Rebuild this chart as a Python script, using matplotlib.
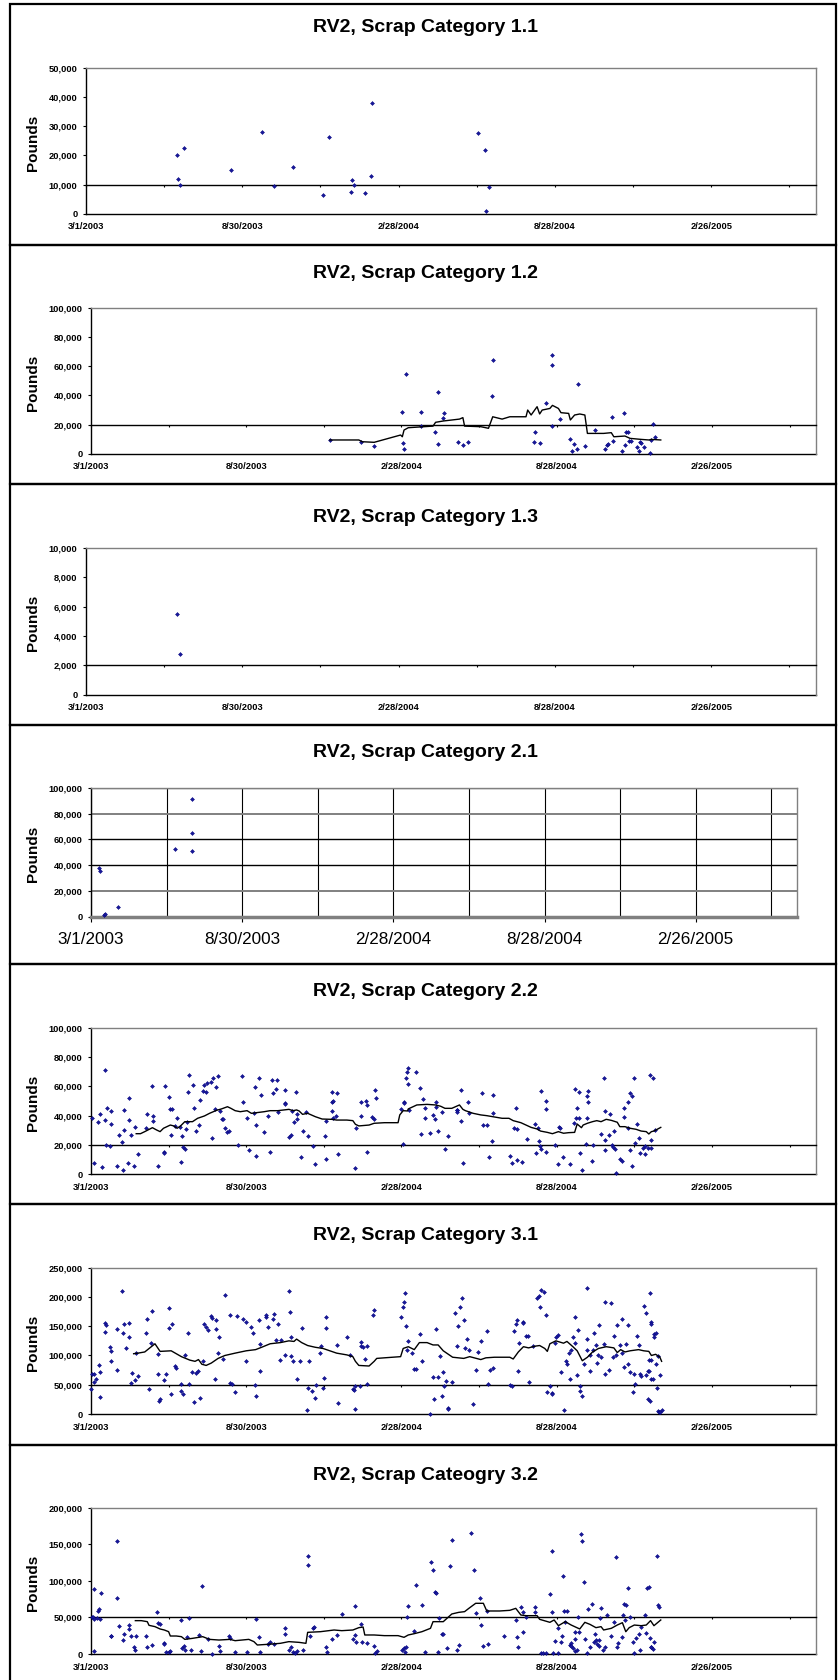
import numpy as np
import matplotlib
matplotlib.use('Agg')
import matplotlib.pyplot as plt
from matplotlib.patches import Rectangle
from matplotlib.lines import Line2D
from datetime import date, timedelta

plt.rcParams['font.family'] = ['Liberation Sans', 'DejaVu Sans']

START = date(2003, 3, 1)
SPAN = 850  # days on every date axis

# x = days after 3/1/2003, y = thousands of pounds
c11_day = [106, 107, 110, 114, 169, 205, 219, 241, 276, 283, 309, 310, 312, 325, 332, 333, 457, 465, 469, 466]
c11_klb = [20.0, 12.0, 9.8, 22.4, 15.0, 28.0, 9.4, 16.0, 6.4, 26.1, 7.4, 11.5, 9.8, 7.1, 12.8, 37.9, 27.5, 21.7, 9.2, 1.0]

c12_day = [280, 317, 332, 365, 366, 367, 369, 387, 387, 403, 407, 407, 413, 414, 430, 436, 442, 470, 471, 519,
           521, 526, 533, 540, 541, 541, 550, 562, 564, 566, 570, 571, 579, 591, 603, 605, 606, 611, 612, 625,
           622, 626, 627, 629, 631, 633, 640, 642, 644, 645, 648, 655, 657, 659, 661]
c12_klb = [9.4, 8.2, 5.5, 28.3, 7.1, 3.2, 54.8, 28.3, 18.7, 14.8, 42.5, 6.6, 24.4, 28.1, 8.0, 6.2, 8.2, 39.7, 64.4, 8.2,
           15.1, 7.5, 34.9, 67.3, 60.5, 18.7, 23.5, 10.0, 1.6, 6.8, 3.2, 47.9, 5.3, 16.0, 3.2, 5.9, 6.6, 24.9, 8.4, 27.6,
           2.1, 5.9, 14.6, 14.8, 8.9, 8.4, 4.8, 1.8, 8.2, 7.1, 4.3, 0.2, 9.4, 20.1, 11.6]
c12_avg_day = [280, 314, 318, 332, 363, 365, 367, 372, 385, 401, 404, 413, 432, 436, 438, 457, 466, 471, 482, 491,
               510, 512, 516, 523, 526, 529, 538, 541, 548, 551, 560, 562, 567, 573, 579, 582, 601, 610, 613, 626,
               632, 645, 654, 657, 668]
c12_avg_klb = [9.4, 9.4, 8.2, 7.8, 12.8, 11.6, 16.2, 17.8, 18.3, 18.9, 21.5, 22.4, 23.7, 24.7, 18.9, 18.5, 17.4, 25.3, 23.7, 25.3,
               25.3, 29.9, 26.5, 32.2, 27.2, 29.9, 31.0, 33.1, 31.0, 28.1, 27.6, 23.1, 26.5, 27.2, 26.5, 13.9, 13.9, 14.4, 11.6, 12.1,
               10.5, 9.8, 9.4, 9.8, 9.4]

c13_day = [106, 109]
c13_klb = [5.51, 2.79]

c21_day = [10, 11, 16, 17, 33, 101, 121, 121, 122]
c21_klb = [38.0, 35.8, 1.5, 2.3, 7.7, 52.3, 50.8, 64.7, 91.5]

c22_day = [1, 3, 8, 10, 13, 16, 16, 18, 19, 22, 23, 24, 30, 33, 36, 38, 39, 39, 43, 44,
           45, 47, 50, 52, 55, 64, 66, 71, 73, 73, 79, 85, 86, 87, 91, 93, 94, 95, 99, 101,
           104, 106, 107, 108, 110, 111, 113, 114, 115, 120, 121, 123, 127, 128, 131, 133, 135, 136, 141, 142,
           143, 145, 146, 149, 151, 154, 155, 157, 159, 162, 172, 177, 178, 183, 185, 191, 192, 193, 194, 197,
           199, 203, 207, 210, 212, 213, 217, 218, 219, 227, 228, 228, 232, 234, 236, 238, 240, 242, 242, 246,
           248, 252, 254, 260, 263, 274, 275, 276, 282, 283, 283, 284, 284, 287, 288, 289, 309, 311, 316, 317,
           322, 323, 324, 330, 332, 333, 334, 364, 366, 367, 367, 369, 371, 372, 372, 373, 381, 386, 387, 389,
           391, 391, 397, 401, 403, 404, 405, 407, 411, 415, 418, 429, 429, 429, 434, 434, 436, 442, 443, 458,
           459, 464, 467, 470, 471, 471, 491, 493, 496, 498, 500, 500, 505, 511, 520, 522, 524, 525, 526, 527,
           528, 533, 533, 534, 544, 548, 549, 550, 553, 561, 566, 567, 569, 570, 572, 572, 573, 576, 580, 581,
           582, 583, 583, 587, 588, 598, 601, 603, 603, 603, 607, 608, 611, 612, 613, 614, 616, 620, 622, 625,
           625, 629, 630, 632, 632, 634, 634, 637, 638, 640, 642, 644, 647, 649, 650, 653, 655, 656, 657, 659,
           661]
c22_klb = [38.6, 7.5, 36, 41, 5.2, 71, 37, 20, 45, 19, 34.5, 43.4, 5.9, 27, 22, 3, 43.6, 30, 8, 52,
           37, 27, 5.5, 32, 14, 31.6, 41, 60, 36.4, 40, 5.5, 15, 14.3, 60, 52.5, 44.8, 26.8, 44.5, 33, 38.4,
           32.3, 8.6, 25.9, 18.6, 17.5, 31, 36, 56, 68, 61, 45, 29.8, 33.4, 50.5, 57, 61, 56, 62, 63, 24.8,
           65.5, 44.5, 59.3, 66.8, 43.4, 37.7, 38, 31.4, 28.9, 29.8, 20.2, 66.8, 49.5, 38.4, 16.8, 42, 59.8, 12.3, 33.4, 65.5,
           54.3, 29, 39.8, 15.2, 64.5, 55.5, 58, 64.5, 42.7, 57.3, 48.6, 48, 25.5, 26.8, 43.2, 36, 56.4, 38, 41.4, 11.6,
           29.5, 42.3, 26, 19.3, 7, 26, 36.4, 10.7, 56.4, 43.2, 49, 49.8, 38.6, 40, 55.5, 13.9, 4.5, 31.8, 49.5, 39.5,
           50, 47.3, 15.2, 39, 38, 57.3, 51.8, 44.5, 21, 49.5, 48.6, 66, 69.8, 61.6, 72.3, 43.6, 69.5, 59, 27.3, 51.6,
           38.2, 45.5, 28.2, 40.5, 37.5, 49.3, 46, 29.3, 42.7, 17.5, 26.4, 44, 43.6, 42.3, 36.6, 57.3, 7.7, 49, 42, 55.7,
           33.9, 33.6, 11.8, 22.7, 54.3, 41.6, 12.3, 7.5, 31.4, 45.2, 10, 30.9, 8.4, 23.9, 34, 14.5, 31.6, 22.7, 19.3, 17,
           56.8, 49.8, 44.8, 15.5, 20, 6.8, 32.3, 31.6, 11.8, 7, 34.8, 58.2, 38.6, 45.5, 55.9, 38.4, 14.5, 3.2, 20.7, 38.4,
           53.2, 56.6, 49.5, 9.3, 19.8, 27.5, 66, 43, 23.2, 16.4, 26.8, 41.4, 19.8, 18.4, 29.3, 17.5, 1, 10.5, 9.3, 38.9,
           45.2, 49.5, 31.6, 16.8, 55.2, 5.9, 53.2, 65.7, 21.1, 34.5, 25, 14.5, 18, 19.3, 13.6, 18.2, 68, 23.4, 18, 65.5,
           30]
c22_avg_day = [53, 58, 63, 72, 77, 81, 85, 93, 97, 101, 105, 110, 119, 125, 133, 139, 147, 153, 160, 164,
               169, 175, 183, 188, 195, 203, 210, 219, 232, 237, 241, 244, 248, 254, 263, 271, 282, 288, 300, 307,
               310, 314, 326, 332, 344, 360, 362, 366, 371, 372, 382, 394, 404, 410, 415, 423, 432, 436, 439, 448,
               457, 464, 473, 482, 490, 495, 504, 510, 516, 523, 527, 535, 541, 548, 554, 560, 567, 570, 575, 577,
               582, 588, 593, 598, 604, 610, 617, 620, 626, 632, 639, 645, 651, 654, 657, 660, 668]
c22_avg_klb = [27.7, 27.7, 29.1, 31.8, 30.2, 29.1, 31.4, 33.6, 33.0, 31.4, 33.0, 35.9, 35.9, 38.2, 39.8, 41.6, 43.6, 44.6, 46.1, 45.0,
               43.4, 42.7, 43.4, 41.6, 42.1, 42.7, 43.4, 43.4, 44.3, 43.4, 43.9, 43.2, 40.9, 41.6, 39.3, 37.7, 37.5, 37.0, 37.0, 36.6,
               34.1, 33.0, 33.6, 34.8, 35.2, 35.2, 40.5, 43.4, 43.2, 44.6, 47.3, 47.7, 47.3, 46.4, 45.0, 45.0, 47.3, 44.3, 43.4, 41.6,
               40.5, 40.0, 39.1, 38.2, 38.2, 36.6, 35.2, 33.6, 32.0, 30.9, 29.5, 28.6, 27.7, 29.1, 28.0, 28.4, 28.6, 34.3, 31.8, 33.6,
               34.8, 35.9, 36.6, 35.9, 37.5, 36.8, 35.5, 32.5, 32.5, 31.4, 30.7, 29.5, 29.1, 27.5, 29.1, 29.5, 32.0]

c31_day = [0, 1, 3, 4, 6, 9, 11, 10, 16, 16, 18, 22, 23, 24, 30, 31, 36, 38, 39, 41,
           44, 45, 47, 48, 51, 53, 55, 64, 66, 68, 70, 72, 78, 79, 80, 81, 86, 88, 91, 92,
           94, 95, 99, 100, 105, 106, 108, 110, 114, 115, 118, 121, 123, 126, 128, 131, 133, 135, 137, 141,
           142, 145, 146, 147, 149, 150, 155, 157, 163, 163, 165, 169, 171, 178, 182, 182, 187, 190, 192, 194,
           197, 198, 198, 205, 205, 207, 213, 215, 217, 219, 221, 223, 227, 232, 233, 235, 235, 237, 241, 245,
           247, 253, 254, 255, 259, 263, 264, 268, 270, 272, 273, 275, 275, 288, 289, 300, 304, 307, 308, 310,
           310, 315, 316, 317, 319, 321, 323, 324, 331, 332, 364, 366, 367, 368, 369, 371, 372, 376, 379, 381,
           386, 388, 398, 401, 402, 404, 407, 409, 411, 413, 414, 416, 418, 419, 423, 427, 429, 430, 433, 435,
           437, 438, 441, 443, 448, 451, 454, 457, 464, 465, 468, 471, 491, 493, 496, 498, 500, 501, 502, 506,
           507, 510, 512, 513, 518, 523, 525, 526, 528, 531, 533, 535, 538, 540, 541, 544, 545, 548, 551, 555,
           557, 558, 560, 562, 563, 565, 567, 568, 570, 571, 573, 573, 576, 578, 581, 582, 582, 585, 585, 588,
           590, 592, 593, 594, 596, 598, 601, 603, 603, 607, 610, 612, 613, 615, 617, 620, 622, 623, 625, 627,
           629, 630, 632, 635, 637, 638, 640, 642, 644, 645, 648, 651, 653, 654, 656, 657, 660, 662, 664, 665,
           667, 651, 653, 654, 655, 655, 657, 657, 659, 660, 662, 665, 666, 667, 669]
c31_klb = [42, 68, 69, 55, 60, 84, 29, 71, 140, 155, 152, 114, 108, 91, 145, 75, 210, 138, 153, 113,
           132, 155, 53, 70, 58, 105, 65, 138, 162, 43, 121, 176, 69, 103, 23, 25, 58, 69, 147, 181,
           35, 154, 82, 79, 51, 39, 35, 101, 138, 51, 71, 21, 70, 73, 27, 91, 153, 148, 144, 168,
           164, 59, 160, 145, 104, 131, 94, 204, 169, 53, 51, 38, 167, 162, 91, 158, 149, 138, 50, 30,
           161, 74, 120, 165, 170, 149, 162, 171, 126, 153, 93, 126, 100, 211, 175, 132, 99, 91, 59, 91,
           147, 7, 44, 90, 40, 27, 50, 105, 117, 45, 61, 165, 147, 118, 18, 132, 101, 43, 41, 48,
           8, 47, 123, 116, 115, 94, 117, 51, 169, 177, 166, 182, 192, 207, 150, 109, 124, 104, 77, 77,
           136, 91, 0, 64, 26, 146, 64, 99, 31, 72, 47, 56, 11, 8.5, 54, 172, 117, 150, 182, 198,
           161, 112, 129, 109, 17, 75, 106, 124, 141, 52, 75, 79, 49, 47, 142, 153, 161, 74, 122, 157,
           155, 133, 133, 54, 117, 199, 201, 183, 212, 208, 169, 38, 47, 36, 35, 121, 132, 135, 71, 7,
           91, 85, 105, 60, 110, 132, 166, 121, 67, 144, 47, 40, 31, 85, 109, 129, 215, 101, 74, 109,
           138, 118, 87, 100, 152, 98, 120, 191, 69, 75, 190, 98, 134, 101, 152, 118, 162, 104, 81, 119,
           152, 86, 71, 38, 68, 52, 133, 118, 68, 65, 184, 173, 74, 74, 158, 153, 137, 138, 44, 99,
           67, 66, 25, 93, 23, 206, 59, 92, 60, 132, 85, 5, 3, 4, 7]
c31_avg_day = [50, 55, 63, 75, 81, 94, 106, 116, 122, 126, 130, 135, 141, 149, 157, 169, 182, 193, 200, 210,
               216, 222, 232, 238, 241, 247, 254, 263, 272, 288, 300, 307, 310, 314, 326, 332, 335, 344, 363, 366,
               372, 379, 385, 394, 401, 407, 413, 424, 437, 444, 457, 463, 473, 491, 495, 501, 507, 513, 521, 526,
               532, 535, 538, 545, 554, 558, 565, 570, 576, 582, 588, 595, 604, 613, 617, 621, 626, 632, 642, 648,
               654, 657, 662, 667, 669]
c31_avg_klb = [103, 104, 106, 120, 107, 108, 98, 92, 90, 93, 85, 83, 87, 95, 100, 104, 108, 110, 114, 120,
               121, 122, 125, 124, 128, 122, 117, 114, 112, 104, 101, 98, 90, 83, 82, 90, 95, 96, 98, 112,
               115, 110, 122, 122, 118, 118, 108, 97, 95, 98, 93, 96, 97, 97, 94, 106, 115, 113, 116, 117,
               112, 107, 120, 125, 121, 124, 115, 108, 91, 97, 106, 112, 115, 113, 105, 110, 106, 108, 110, 108,
               107, 100, 102, 97, 90]

c32_day = [1, 2, 3, 3, 4, 7, 8, 9, 11, 12, 23, 24, 30, 31, 33, 38, 39, 44, 45, 47,
           50, 52, 53, 64, 66, 72, 77, 79, 81, 85, 86, 88, 91, 93, 105, 107, 109, 110, 113, 115,
           117, 127, 129, 130, 137, 142, 150, 151, 162, 163, 169, 183, 193, 197, 198, 207, 210, 215, 227, 228,
           232, 235, 237, 239, 241, 248, 254, 254, 257, 260, 262, 275, 277, 282, 288, 294, 307, 309, 310, 311,
           316, 318, 324, 332, 333, 335, 365, 367, 368, 369, 371, 372, 379, 381, 388, 391, 399, 401, 403, 404,
           407, 408, 411, 413, 417, 421, 423, 429, 432, 446, 449, 451, 456, 457, 460, 464, 465, 484, 498, 500,
           501, 504, 506, 506, 510, 520, 521, 527, 530, 534, 538, 541, 541, 542, 544, 547, 548, 551, 552, 553,
           555, 556, 558, 561, 563, 563, 565, 567, 567, 568, 570, 571, 572, 574, 576, 578, 579, 581, 583, 585,
           587, 590, 591, 592, 593, 595, 596, 597, 598, 600, 603, 605, 610, 613, 615, 617, 618, 622, 624, 625,
           626, 627, 629, 632, 635, 637, 639, 642, 644, 645, 650, 651, 652, 654, 655, 656, 657, 659, 660, 664,
           665, 666]
c32_klb = [51, 50, 48, 4, 89, 49, 59, 62, 48, 84, 24, 25, 76, 154, 38, 19, 27, 40, 34, 25,
           10, 5, 25, 24, 9, 12, 58, 42, 41, 15, 14, 3, 3, 4, 46, 8, 11, 5, 23, 49,
           5, 26, 4, 93, 20, 0.5, 11, 4, 24, 22, 3, 3, 48, 23, 3, 13, 17, 14, 35, 27,
           6, 9, 3, 2, 4.5, 6, 134, 122, 24, 35, 37, 9, 3, 21, 26, 54, 21, 26, 65, 17,
           41, 17, 15, 11, 2, 4, 5, 8, 3, 10, 51, 66, 31, 94, 67, 3, 126, 115, 85, 84,
           3, 49, 27, 27, 8, 120, 156, 5, 12, 166, 115, 56, 77, 40, 11, 59, 14, 25, 46, 23,
           9, 64, 58, 30, 51, 64, 58, 2, 2, 1, 82, 141, 58, 1, 18, 35, 1, 17, 24, 107,
           59, 44, 59, 12, 15, 11, 8, 4, 20, 30, 6, 51, 30, 164, 154, 99, 20, 1, 61, 9,
           68, 16, 27, 19, 13, 11, 19, 49, 63, 6, 9, 53, 25, 44, 132, 9, 15, 23, 53, 68,
           46, 67, 90, 50, 16, 2, 22, 27, 5, 37, 53, 29, 90, 92, 22, 10, 10, 7, 17, 134,
           67, 64]
c32_avg_day = [52, 59, 66, 68, 75, 81, 86, 91, 93, 100, 106, 110, 119, 131, 139, 150, 163, 169, 185, 191,
               195, 207, 222, 232, 244, 252, 254, 269, 285, 294, 307, 314, 319, 321, 332, 344, 360, 367, 372, 379,
               388, 398, 401, 413, 423, 431, 438, 443, 451, 460, 464, 479, 491, 498, 504, 510, 523, 526, 538, 543,
               548, 556, 563, 573, 579, 585, 592, 598, 601, 610, 617, 623, 627, 631, 637, 645, 651, 656, 660, 668]
c32_avg_klb = [45.6, 45.6, 44.2, 39.2, 37.4, 34.2, 32.8, 30.5, 24.6, 24.6, 23.7, 20.0, 21.4, 23.7, 20.0, 19.1, 20.0, 18.2, 20.0, 16.9,
               12.3, 13.2, 14.6, 16.9, 15.9, 14.6, 29.6, 30.5, 32.8, 31.9, 32.8, 36.0, 36.9, 26.0, 26.0, 25.1, 25.1, 22.8, 26.0, 27.8,
               30.5, 35.1, 44.2, 44.2, 54.7, 56.9, 57.9, 62.4, 69.3, 69.3, 58.8, 58.8, 59.7, 62.4, 53.3, 52.4, 52.4, 47.4, 43.3, 46.5,
               38.7, 44.2, 39.6, 34.2, 43.3, 40.5, 36.0, 37.4, 32.8, 35.1, 39.6, 42.8, 30.5, 36.0, 39.6, 38.7, 39.6, 45.6, 38.7, 46.5]

W, H = 838, 1680
fig = plt.figure(figsize=(W / 100, H / 100), dpi=100)


def date_label(d):
    t = START + timedelta(days=int(d))
    return f"{t.month}/{t.day}/{t.year}"


def panel(title, frame, box, title_y, ymax, ystep, cross, day, klb,
          avg_day=None, avg_klb=None, grid=False):
    top, bottom = frame
    fig.add_artist(Rectangle((10 / W, 1 - bottom / H), 826 / W, (bottom - top) / H,
                             transform=fig.transFigure, fill=False, ec='black', lw=1.6))
    fig.text(425 / W, 1 - title_y / H, title, ha='center', va='center',
             fontsize=14, fontweight='bold')
    l, r, t, b = box
    ax = fig.add_axes([l / W, 1 - b / H, (r - l) / W, (b - t) / H])
    fig.text(33 / W, 1 - ((t + b) / 2 + 2) / H, 'Pounds', rotation=90,
             ha='center', va='center', fontsize=11, fontweight='bold')

    ax.set_xlim(0, SPAN)
    ax.set_ylim(0, ymax)
    yt = np.arange(0, ymax + 1, ystep)
    ax.set_yticks(yt, labels=[f'{v:,}' for v in yt], fontsize=6.7, fontweight='bold')
    ax.tick_params(axis='y', direction='out', length=2, width=0.8, pad=4)
    for s in ['top', 'right']:
        ax.spines[s].set_color('#808080')
        ax.spines[s].set_linewidth(1.0)
    ax.spines['left'].set_color('black')
    ax.spines['left'].set_linewidth(1.0)

    if grid:
        # gridded layout: axis at zero, larger regular date labels
        ax.spines['bottom'].set_color('#808080')
        ax.spines['bottom'].set_linewidth(2.5)
        ticks = np.arange(0, SPAN, 182)
        ax.set_xticks(ticks, labels=[date_label(d) for d in ticks], fontsize=12.3)
        ax.set_xticks(np.arange(0, SPAN, 91), minor=True)
        ax.tick_params(axis='x', which='major', direction='out', length=3.6, width=0.8, pad=7.5)
        ax.tick_params(axis='x', which='minor', length=0)
        ax.grid(axis='x', which='both', color='black', lw=0.8)
        ax.grid(axis='y', which='major', lw=1.0)
        for v, gl in zip(yt, ax.get_ygridlines()):
            gl.set_color('black' if v in (40000, 60000) else '#808080')
            if v in (20000, 80000):
                gl.set_linewidth(1.4)
        ax.set_axisbelow(True)
    else:
        # horizontal axis crosses at a reference level; labels stay at the bottom
        ax.spines['bottom'].set_position(('data', cross))
        ax.spines['bottom'].set_color('black')
        ax.spines['bottom'].set_linewidth(1.0)
        ax.set_xticks(np.arange(0, SPAN, 91))
        ax.tick_params(axis='x', direction='out', length=1.6, width=0.8, labelbottom=False)
        ax.add_line(Line2D([0, 1], [0, 0], transform=ax.transAxes, color='black',
                           lw=1.0, clip_on=False))
        sec = ax.secondary_xaxis('bottom')
        ticks = np.arange(0, SPAN, 182)
        sec.set_xticks(ticks, labels=[date_label(d) for d in ticks],
                       fontsize=6.7, fontweight='bold')
        sec.tick_params(length=0, pad=6.3)
        sec.spines['bottom'].set_visible(False)

    ax.plot(day, np.array(klb) * 1000, ls='none', marker='D', ms=2.0,
            mfc='#1a1a9a', mec='#000080', mew=0.35, clip_on=False, zorder=3)
    if avg_day is not None:
        ax.plot(avg_day, np.array(avg_klb) * 1000, color='black', lw=1.0, zorder=4)
    return ax


panel('RV2, Scrap Category 1.1', (4, 245), (86, 816, 67.7, 213.7), 28,
      50000, 10000, 10000, c11_day, c11_klb)
panel('RV2, Scrap Category 1.2', (245, 484), (91, 816, 307.7, 453.7), 273.3,
      100000, 20000, 20000, c12_day, c12_klb, c12_avg_day, c12_avg_klb)
panel('RV2, Scrap Category 1.3', (484, 725), (86, 816, 547.7, 694.7), 517.3,
      10000, 2000, 2000, c13_day, c13_klb)
panel('RV2, Scrap Category 2.1', (725, 964), (91, 797, 788, 916.7), 752.3,
      100000, 20000, 0, c21_day, c21_klb, grid=True)
panel('RV2, Scrap Category 2.2', (964, 1204), (91, 816, 1027.7, 1174.3), 991.7,
      100000, 20000, 20000, c22_day, c22_klb, c22_avg_day, c22_avg_klb)
panel('RV2, Scrap Category 3.1', (1204, 1445), (91, 816, 1267.7, 1414), 1235,
      250000, 50000, 50000, c31_day, c31_klb, c31_avg_day, c31_avg_klb)
panel('RV2, Scrap Cateogry 3.2', (1445, 1690), (91, 816, 1507.7, 1654), 1476,
      200000, 50000, 50000, c32_day, c32_klb, c32_avg_day, c32_avg_klb)

fig.savefig('out.png', dpi=100)
